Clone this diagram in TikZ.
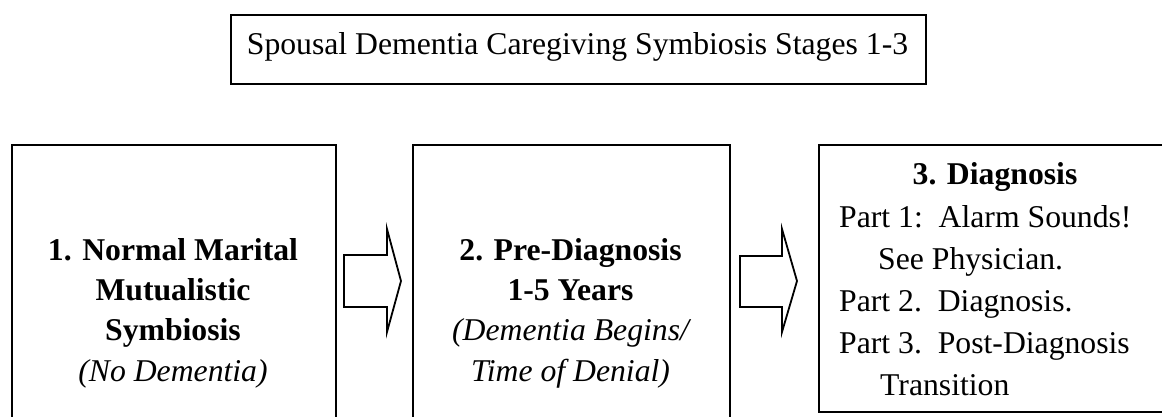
\documentclass[tikz,border=0pt]{standalone}
\usepackage{fontspec}
\setmainfont{Liberation Serif}
\begin{document}
\begin{tikzpicture}[x=1pt,y=-1pt,
  frame/.style={draw=black,line width=2.4pt,fill=none,inner sep=0pt,anchor=north west},
  titleframe/.style={draw=black,line width=2pt,inner sep=0pt,anchor=north west},
  blockarrow/.style={draw=black,line width=1.8pt,line join=miter},
  txt/.style={inner sep=0pt,anchor=base,font=\fontsize{31.7}{38}\selectfont},
  btxt/.style={txt,font=\fontsize{31.7}{38}\selectfont\bfseries},
  itxt/.style={txt,font=\fontsize{31.7}{38}\selectfont\itshape},
  ltxt/.style={txt,anchor=base west}]
\useasboundingbox (0,0) rectangle (1162,417);
\clip (0,0) rectangle (1162,417);
% title
\node[titleframe,minimum width=695pt,minimum height=69pt] (title) at (230,14) {};
\node[txt] (titletext) at (577.5,55) {Spousal Dementia Caregiving Symbiosis Stages 1-3};
% boxes
\node[frame,minimum width=324pt,minimum height=300pt] (b1) at (11,144) {};
\node[frame,minimum width=317pt,minimum height=300pt] (b2) at (412,144) {};
\node[frame,minimum width=362pt,minimum height=267pt] (b3) at (818,144) {};
% box 1 text
\node[btxt] (b1l1) at (173,260) {1. Normal Marital};
\node[btxt] (b1l2) at (173,300) {Mutualistic};
\node[btxt] (b1l3) at (173,340) {Symbiosis};
\node[itxt] (b1l4) at (173,381) {(No Dementia)};
% box 2 text
\node[btxt] (b2l1) at (570.5,260) {2. Pre-Diagnosis};
\node[btxt] (b2l2) at (570.5,300) {1-5 Years};
\node[itxt] (b2l3) at (570.5,340) {(Dementia Begins/};
\node[itxt] (b2l4) at (570.5,381) {Time of Denial)};
% box 3 text
\node[btxt] (b3l1) at (995,185) {3. Diagnosis};
\node[ltxt] (b3l2) at (839,227) {Part 1:\ \ Alarm Sounds!};
\node[ltxt] (b3l3) at (878,269) {See Physician.};
\node[ltxt] (b3l4) at (839,311) {Part 2.\ \ Diagnosis.};
\node[ltxt] (b3l5) at (839,353) {Part 3.\ \ Post-Diagnosis};
\node[ltxt] (b3l6) at (880,395) {Transition};
% block arrows
\draw[blockarrow] (344,255) -- (387,255) -- (387,229) -- (401,281) -- (387,332) -- (387,307) -- (344,307) -- cycle;
\draw[blockarrow] (740,256) -- (782,256) -- (782,229) -- (797,281) -- (782,332) -- (782,307) -- (740,307) -- cycle;
\end{tikzpicture}
\end{document}
